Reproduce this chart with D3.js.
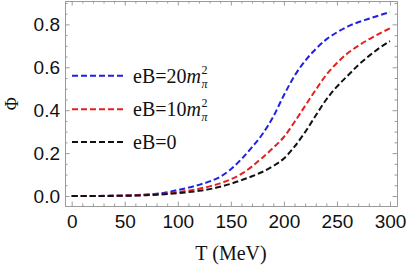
<!DOCTYPE html>
<html>
<head>
<meta charset="utf-8">
<script src="https://cdn.jsdelivr.net/npm/d3@7"></script>
<style>
  body { margin: 0; background: #fff; }
  svg { display: block; }
</style>
</head>
<body>
<div id="chart"></div>
<script>
// Temperature grid (MeV)
const temps = d3.range(0, 301, 10);

// Polyakov loop values
const phiEB20 = [0, 0, 0, 0.001, 0.001, 0.002, 0.004, 0.007, 0.011, 0.017, 0.028, 0.039, 0.052, 0.068, 0.09, 0.125,
                 0.172, 0.228, 0.29, 0.37, 0.47, 0.56, 0.63, 0.685, 0.73, 0.763, 0.79, 0.81, 0.826, 0.842, 0.857];
const phiEB10 = [0, 0, 0, 0, 0.001, 0.002, 0.003, 0.005, 0.008, 0.012, 0.018, 0.025, 0.034, 0.045, 0.059, 0.078,
                 0.103, 0.138, 0.18, 0.225, 0.275, 0.345, 0.42, 0.495, 0.565, 0.62, 0.665, 0.7, 0.73, 0.757, 0.782];
const phiEB0  = [0, 0, 0, 0, 0.001, 0.001, 0.002, 0.004, 0.006, 0.009, 0.013, 0.018, 0.024, 0.032, 0.043, 0.057,
                 0.074, 0.092, 0.113, 0.14, 0.175, 0.23, 0.298, 0.375, 0.45, 0.51, 0.56, 0.61, 0.652, 0.69, 0.722];

const xTicks = [0, 50, 100, 150, 200, 250, 300];
const yTicks = [0.0, 0.2, 0.4, 0.6, 0.8];

const series = [
  { name: "20", values: phiEB20, color: "#1f1fe6" },
  { name: "10", values: phiEB10, color: "#e61f1f" },
  { name: "0",  values: phiEB0,  color: "#111111" }
];

const width = 409, height = 266;
const plotLeft = 65, plotRight = 397, plotTop = 1, plotBottom = 206;

const svg = d3.select("#chart").append("svg")
  .attr("width", width)
  .attr("height", height);

const x = d3.scaleLinear().domain([-6.3, 306.6]).range([plotLeft, plotRight]);
const y = d3.scaleLinear().domain([-0.0466, 0.909]).range([plotBottom, plotTop]);

const frameColor = "#9a9a9a";

// curves first so the frame sits on top
const line = d3.line()
  .x((d, i) => x(temps[i]))
  .y(d => y(d))
  .curve(d3.curveMonotoneX);

series.forEach(s => {
  svg.append("path")
    .datum(s.values)
    .attr("d", line)
    .attr("fill", "none")
    .attr("stroke", s.color)
    .attr("stroke-width", 2)
    .attr("stroke-dasharray", "6,3");
});

// axes on all four sides, Mathematica-style frame ticks
const xMinor = d3.range(0, 301, 10).filter(v => v % 50 !== 0);
const yMinor = d3.range(0, 0.91, 0.05).filter(v => Math.abs(v / 0.2 - Math.round(v / 0.2)) > 0.01);

function styleAxis(g) {
  g.select(".domain").attr("stroke", frameColor);
  g.selectAll(".tick line").attr("stroke", frameColor);
  g.selectAll("text")
    .attr("fill", "#111")
    .style("font-family", "'Liberation Sans', Arial, sans-serif")
    .style("font-size", "19px");
}

// bottom
svg.append("g").attr("transform", `translate(0,${plotBottom})`)
  .call(d3.axisBottom(x).tickValues(xMinor).tickSize(-2.5).tickFormat("").tickSizeOuter(0))
  .call(styleAxis);
svg.append("g").attr("transform", `translate(0,${plotBottom})`)
  .call(d3.axisBottom(x).tickValues(xTicks).tickSize(-4.5).tickPadding(9).tickFormat(d3.format("d")).tickSizeOuter(0))
  .call(styleAxis);
// top
svg.append("g").attr("transform", `translate(0,${plotTop})`)
  .call(d3.axisTop(x).tickValues(xMinor).tickSize(-2.5).tickFormat("").tickSizeOuter(0))
  .call(styleAxis);
svg.append("g").attr("transform", `translate(0,${plotTop})`)
  .call(d3.axisTop(x).tickValues(xTicks).tickSize(-4.5).tickFormat("").tickSizeOuter(0))
  .call(styleAxis);
// left
svg.append("g").attr("transform", `translate(${plotLeft},0)`)
  .call(d3.axisLeft(y).tickValues(yMinor).tickSize(-2.5).tickFormat("").tickSizeOuter(0))
  .call(styleAxis);
svg.append("g").attr("transform", `translate(${plotLeft},0)`)
  .call(d3.axisLeft(y).tickValues(yTicks).tickSize(-4.5).tickPadding(5).tickFormat(d3.format(".1f")).tickSizeOuter(0))
  .call(styleAxis);
// right
svg.append("g").attr("transform", `translate(${plotRight},0)`)
  .call(d3.axisRight(y).tickValues(yMinor).tickSize(-2.5).tickFormat("").tickSizeOuter(0))
  .call(styleAxis);
svg.append("g").attr("transform", `translate(${plotRight},0)`)
  .call(d3.axisRight(y).tickValues(yTicks).tickSize(-4.5).tickFormat("").tickSizeOuter(0))
  .call(styleAxis);

// axis titles
const serif = "'Liberation Serif', 'Times New Roman', serif";
svg.append("text")
  .attr("transform", `translate(18,${y(0.43)}) rotate(-90)`)
  .attr("text-anchor", "middle")
  .style("font-family", serif)
  .style("font-size", "18px")
  .attr("fill", "#111")
  .text("Φ");

svg.append("text")
  .attr("x", (plotLeft + plotRight) / 2)
  .attr("y", 260)
  .attr("text-anchor", "middle")
  .style("font-family", serif)
  .style("font-size", "20px")
  .attr("fill", "#111")
  .text("T (MeV)");

// legend
const legendY = [75.7, 109.3, 142];
const legend = svg.append("g");
series.forEach((s, i) => {
  const row = legend.append("g").attr("transform", `translate(0,${legendY[i]})`);
  row.append("line")
    .attr("x1", 72).attr("x2", 123)
    .attr("stroke", s.color)
    .attr("stroke-width", 2)
    .attr("stroke-dasharray", "6,3");
  const t = row.append("text")
    .attr("x", 133)
    .attr("y", 7)
    .style("font-family", serif)
    .style("font-size", "20px")
    .attr("fill", "#111");
  t.append("tspan").text("eB=" + s.name);
  if (s.name !== "0") {
    t.append("tspan").style("font-style", "italic").text("m");
    // stacked superscript / subscript as separate small labels
    const endX = 133 + t.node().getComputedTextLength() + 0.5;
    row.append("text")
      .attr("x", endX).attr("y", -2)
      .style("font-family", serif)
      .style("font-size", "12px")
      .attr("fill", "#111")
      .text("2");
    row.append("text")
      .attr("x", endX).attr("y", 12)
      .style("font-family", serif)
      .style("font-size", "12px")
      .style("font-style", "italic")
      .attr("fill", "#111")
      .text("π");
  }
});
</script>
</body>
</html>
